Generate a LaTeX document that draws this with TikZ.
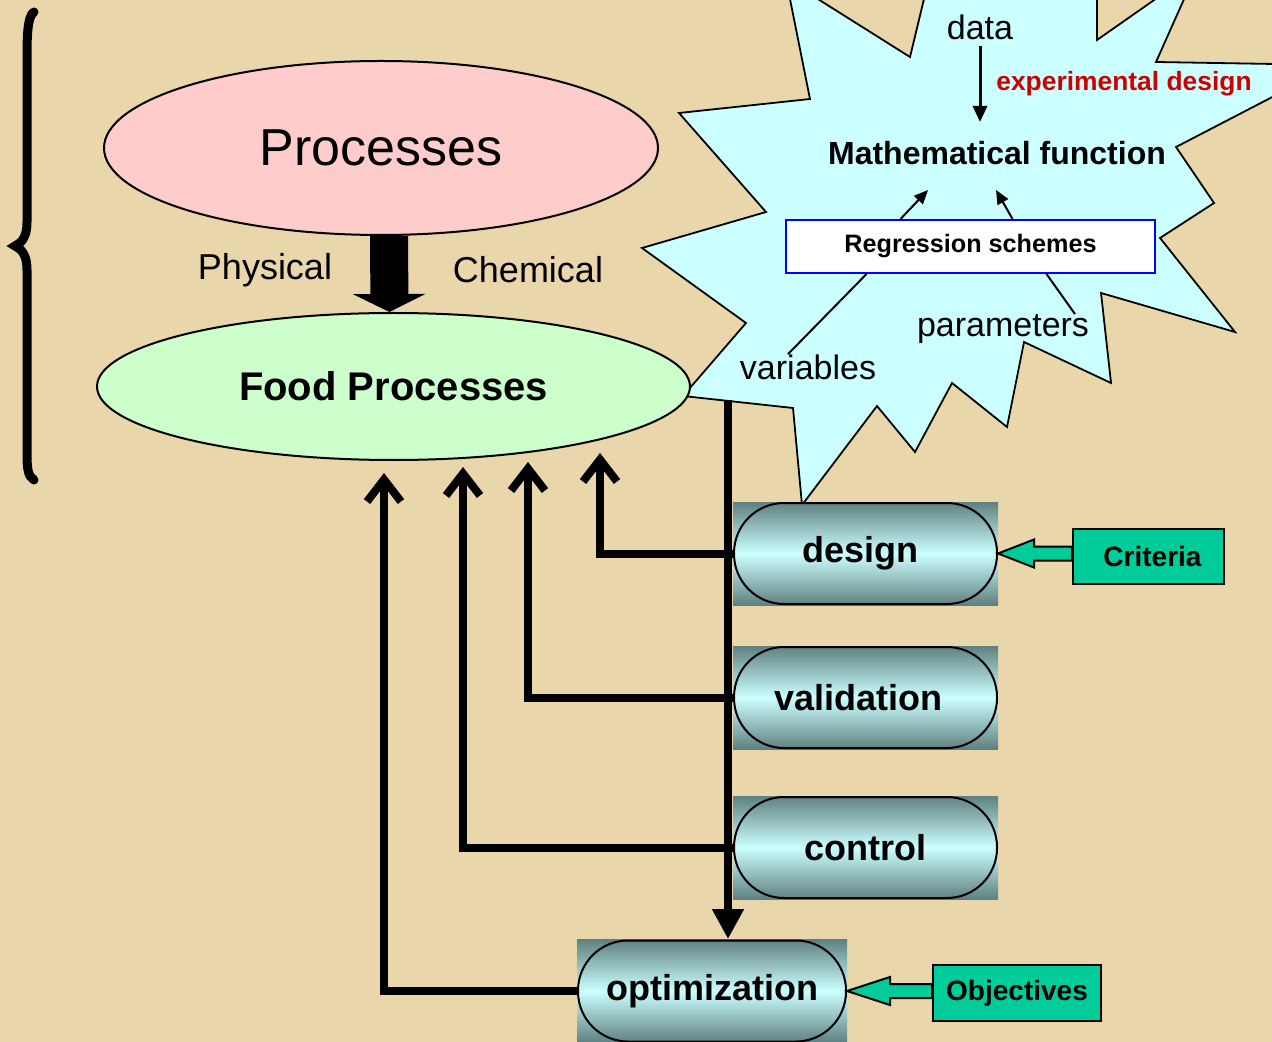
\documentclass[tikz,border=0pt]{standalone}
\usepackage{fontspec}
\setmainfont{Liberation Sans}
\usepackage{xcolor}
\usetikzlibrary{arrows.meta,calc,shapes.geometric}

\definecolor{paper}{RGB}{233,214,170}
\definecolor{pinkfill}{RGB}{255,204,204}
\definecolor{greenfill}{RGB}{204,255,204}
\definecolor{burstfill}{RGB}{204,255,255}
\definecolor{tagfill}{RGB}{0,204,153}
\definecolor{pilldark}{RGB}{95,128,128}
\definecolor{pilllight}{RGB}{204,255,255}
\definecolor{expred}{RGB}{204,0,0}

\begin{document}
\begin{tikzpicture}[
    x=0.5pt,y=-0.5pt,
    oval/.style={draw,ellipse,line width=1pt,inner sep=0pt},
    lbl/.style={inner sep=0pt,font=\fontsize{17}{19}\selectfont},
    side/.style={inner sep=0pt,font=\fontsize{18}{20}\selectfont},
    pillbg/.style={rectangle,inner sep=0pt,minimum width=132.5pt,minimum height=51.5pt,top color=pilldark,bottom color=pilldark,middle color=pilllight},
    pill/.style={rectangle,draw,line width=1pt,rounded corners=25pt,minimum width=131.5pt,minimum height=50.5pt,inner sep=0pt,font=\bfseries\fontsize{18}{20}\selectfont},
    tag/.style={draw,line width=1pt,fill=tagfill,inner sep=0pt,font=\bfseries\fontsize{14}{16}\selectfont},
    tagarrow/.style={fill=tagfill,draw,line width=1pt,line join=miter},
    bar/.style={line width=4pt},
    barrow/.style={bar,-{Straight Barb[length=11pt,width=17pt,line width=4pt]}},
    downarrow/.style={bar,-{Triangle[length=15pt,width=15pt]}},
    fatarrow/.style={line width=19pt,-{Triangle[length=9pt,width=36pt]}},
    thinarrow/.style={line width=1.5pt,-{Triangle[length=8pt,width=7pt]}},
    smallarrow/.style={line width=1pt,-{Triangle[length=7pt,width=6pt]}},
    leader/.style={line width=1pt}
]
\path[use as bounding box] (0,0) rectangle (1272,1042);
\clip (0,0) rectangle (1272,1042);
\fill[paper] (0,0) rectangle (1272,1042);

% brace on the left
\draw[line width=4.5pt,line cap=round] (34,12) .. controls (27,16) and (27,40) .. (27,60) -- (27,222)
  .. controls (27,238) and (21,243) .. (15,246) .. controls (21,249) and (27,254) .. (27,270)
  -- (27,452) .. controls (27,470) and (28,476) .. (34,480);

% explosion
\filldraw[fill=burstfill,line width=0.9pt,line join=miter] (786,-21) -- (910,57) -- (931,-30) -- (1097,-30) -- (1097,40)
  -- (1197,-30) -- (1156,62) -- (1334,65) -- (1176,147) -- (1214,203) -- (1160,238) -- (1235,332)
  -- (1101,293) -- (1111,383) -- (1024,342) -- (1007,427) -- (952,383) -- (915,452) -- (877,406)
  -- (802,505) -- (793,408) -- (683,396) -- (746,323) -- (642,248) -- (766,212) -- (679,113)
  -- (810,99) -- cycle;

\node[oval,fill=pinkfill,minimum width=277pt,minimum height=87pt,font=\fontsize{26}{30}\selectfont] (proc) at (381,148) {Processes};
\node[oval,fill=greenfill,minimum width=296.5pt,minimum height=73.5pt,font=\bfseries\fontsize{20}{24}\selectfont] (food) at (393.5,386.5) {Food Processes};
\draw[fatarrow] ([xshift=4pt]proc.south) -- ([xshift=-2pt]food.north);
\node[side] (phys) at (265,270) {Physical};
\node[side] (chem) at (528,270) {Chemical};

% feedback lines
\coordinate (trunktop) at (728,400);
\coordinate (tipd) at (600,453);
\coordinate (tipv) at (528,462);
\coordinate (tipc) at (463,467);
\coordinate (tipo) at (384,473);

\node[pillbg] (designbg) at (865.5,553.5) {};
\node[pillbg] (validbg) at (865.5,697.5) {};
\node[pillbg] (controlbg) at (865.5,847.5) {};
\node[pillbg,minimum width=135pt] (optbg) at (712,991) {};

\draw[downarrow] (trunktop) -- (trunktop |- optbg.north);
\draw[barrow] (designbg.west) -| (tipd);
\draw[barrow] (validbg.west) -| (tipv);
\draw[barrow] (controlbg.west) -| (tipc);
\draw[barrow] (optbg.west) -| (tipo);

\node[pill] (design) at (designbg) {design\hspace*{5pt}};
\node[pill] (valid) at (validbg) {validation\hspace*{7pt}};
\node[pill] (control) at (controlbg) {control};
\node[pill,minimum width=134pt] (opt) at (optbg) {optimization};

% criteria and objectives
\node[tag,minimum width=75.5pt,minimum height=27.5pt] (crit) at (1148.5,556.5) {\hspace*{4pt}Criteria};
\node[tag,minimum width=84pt,minimum height=28pt] (obj) at (1017,993) {Objectives};
\filldraw[tagarrow] (design.east) -- ($(design.east)+(36,-14)$) -- ($(design.east)+(36,-7)$)
  -- ($(crit.west |- design.east)+(0,-7)$) -- ($(crit.west |- design.east)+(0,7)$)
  -- ($(design.east)+(36,7)$) -- ($(design.east)+(36,14)$) -- cycle;
\filldraw[tagarrow] (opt.east) -- ($(opt.east)+(43,-14)$) -- ($(opt.east)+(43,-7)$)
  -- ($(obj.west |- opt.east)+(0,-7)$) -- ($(obj.west |- opt.east)+(0,7)$)
  -- ($(opt.east)+(43,7)$) -- ($(opt.east)+(43,14)$) -- cycle;

% inside the explosion
\node[lbl] (data) at (980,27) {data};
\coordinate (dataend) at (980,122);
\draw[thinarrow,shorten <=3pt] (data) -- (dataend);
\node[inner sep=0pt,text=expred,font=\bfseries\fontsize{13.2}{15}\selectfont] (expdes) at (1124,84) {experimental design};
\node[inner sep=0pt,font=\bfseries\fontsize{16}{18}\selectfont] (mathfn) at (997,153) {Mathematical function};
\node[draw=blue,line width=1pt,fill=white,minimum width=184.5pt,minimum height=26.5pt,inner sep=0pt,font=\bfseries\fontsize{12.6}{14}\selectfont] (regr) at (970.5,246.5) {Regression schemes};
\coordinate (mfa) at (928,190);
\coordinate (mfb) at (996,190);
\draw[smallarrow] ([xshift=-35pt]regr.north) -- (mfa);
\draw[smallarrow] ([xshift=21pt]regr.north) -- (mfb);
\node[lbl] (vars) at (808,367) {variables};
\node[lbl] (params) at (1003,329) {parameters};
\draw[leader] ([xshift=-52pt]regr.south) -- ([xshift=-10pt]vars.north);
\draw[leader] ([xshift=38pt]regr.south) -- ([xshift=36pt]params.north);
\end{tikzpicture}
\end{document}
